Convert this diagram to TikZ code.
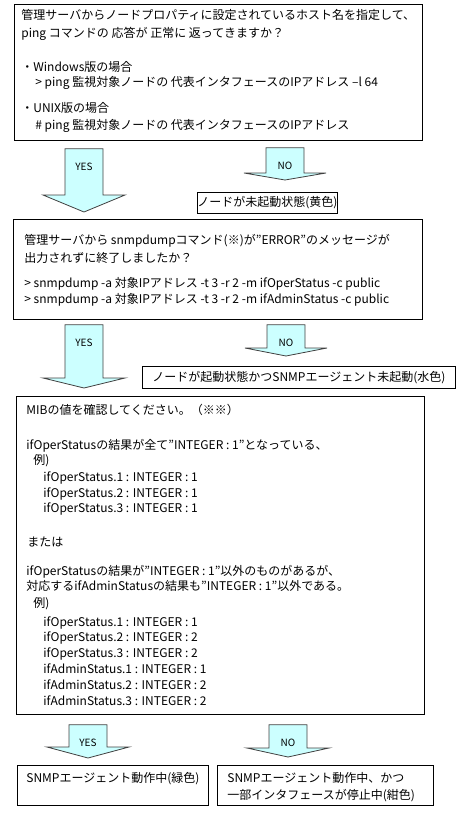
\documentclass[tikz,border=0pt]{standalone}
\usepackage{fontspec}
\setmainfont{Noto Sans CJK JP}
\usetikzlibrary{calc}
\definecolor{arrowfill}{HTML}{CCFFFF}
\definecolor{arrowline}{HTML}{404040}

% box text: width, height, left inset, first baseline, lines
\newcommand{\boxlines}[5]{\parbox[t][#2][t]{#1}{\raggedright\leftskip=#3\relax\rule{0pt}{#4}#5}}
% fat arrow: from, to, x, top gap, tip gap, head length, label
\newcommand{\fatarrow}[7]{%
  \coordinate (fa-a) at (#3,0 |- #1.south);
  \coordinate (fa-b) at (#3,0 |- #2.north);
  \coordinate (fa-top) at ($(fa-a)+(0,#4)$);
  \coordinate (fa-tip) at ($(fa-b)+(0,-#5)$);
  \draw[fatarrow] ($(fa-top)+(-19,0)$)--($(fa-top)+(19,0)$)--($(fa-tip)+(19,-#6)$)--($(fa-tip)+(41,-#6)$)
    --(fa-tip)--($(fa-tip)+(-41,-#6)$)--($(fa-tip)+(-19,-#6)$)--cycle;
  \node[fatlabel] at ($(fa-top)+(0,18)$) {#7};}

\begin{document}
\begin{tikzpicture}[x=1bp,y=-1bp,font=\fontsize{12bp}{17bp}\selectfont,
  box/.style={rectangle,draw=black,line width=0.8bp,inner sep=0pt,anchor=north west},
  fatarrow/.style={draw=arrowline,fill=arrowfill,line width=0.8bp},
  fatlabel/.style={font=\fontsize{10bp}{12bp}\selectfont}]
\path[use as bounding box] (0,0) rectangle (469,837);
\path (14,4) node(q1)[box]{\boxlines{408bp}{136bp}{7bp}{15.5bp}{%
管理サーバからノードプロパティに設定されているホスト名を指定して、\\[1bp]
ping コマンドの 応答が 正常に 返ってきますか？\\[17bp]
・Windows版の場合\\[-2bp]
\hspace*{14bp}> ping 監視対象ノードの 代表インタフェースのIPアドレス –l 64\\[9bp]
・UNIX版の場合\\
\hspace*{14bp}\# ping 監視対象ノードの 代表インタフェースのIPアドレス}}
(197,192) node(r1)[box,minimum width=140bp,minimum height=21bp]{ノードが未起動状態(黄色)}
(13,219) node(q2)[box]{\boxlines{409bp}{100bp}{11bp}{25.5bp}{%
管理サーバから snmpdumpコマンド(※)が”ERROR”のメッセージが\\[1bp]
出力されずに終了しましたか？\\[8bp]
> snmpdump -a 対象IPアドレス -t 3 -r 2 -m ifOperStatus -c public\\[-1bp]
> snmpdump -a 対象IPアドレス -t 3 -r 2 -m ifAdminStatus -c public}}
(142,366) node(r2)[box,minimum width=313bp,minimum height=22bp]{ノードが起動状態かつSNMPエージェント未起動(水色)}
(16,396) node(q3)[box,font=\fontsize{12bp}{16bp}\selectfont]{\boxlines{408bp}{318bp}{10bp}{18.5bp}{%
MIBの値を確認してください。（※※）\\[19bp]
ifOperStatusの結果が全て”INTEGER : 1”となっている、\\[-1bp]
\hspace*{7bp}例)\\[1bp]
\hspace*{17bp}ifOperStatus.1 : INTEGER : 1\\
\hspace*{17bp}ifOperStatus.2 : INTEGER : 1\\[-1bp]
\hspace*{17bp}ifOperStatus.3 : INTEGER : 1\\[18bp]
\hspace*{1bp}または\\[13bp]
ifOperStatusの結果が”INTEGER : 1”以外のものがあるが、\\[-1bp]
対応するifAdminStatusの結果も”INTEGER : 1”以外である。\\[1bp]
\hspace*{7bp}例)\\[3bp]
\hspace*{17bp}ifOperStatus.1 : INTEGER : 1\\[-1bp]
\hspace*{17bp}ifOperStatus.2 : INTEGER : 2\\
\hspace*{17bp}ifOperStatus.3 : INTEGER : 2\\
\hspace*{17bp}ifAdminStatus.1 : INTEGER : 1\\
\hspace*{17bp}ifAdminStatus.2 : INTEGER : 2\\
\hspace*{17bp}ifAdminStatus.3 : INTEGER : 2}}
(17,765) node(r3)[box]{\boxlines{191bp}{40bp}{9bp}{17.5bp}{SNMPエージェント動作中(緑色)}}
(217,765) node(r4)[box]{\boxlines{216bp}{40bp}{10bp}{17.5bp}{%
SNMPエージェント動作中、かつ\\
一部インタフェースが停止中(紺色)}};
\fatarrow{q1}{q2}{84}{8}{7}{17}{YES}
\fatarrow{q1}{r1}{285}{7}{12}{7}{NO}
\fatarrow{q2}{q3}{84}{5}{8}{10}{YES}
\fatarrow{q2}{r2}{286}{5}{10}{8}{NO}
\fatarrow{q3}{r3}{88}{10}{7}{11}{YES}
\fatarrow{q3}{r4}{288}{10}{8}{9}{NO}
\end{tikzpicture}
\end{document}
